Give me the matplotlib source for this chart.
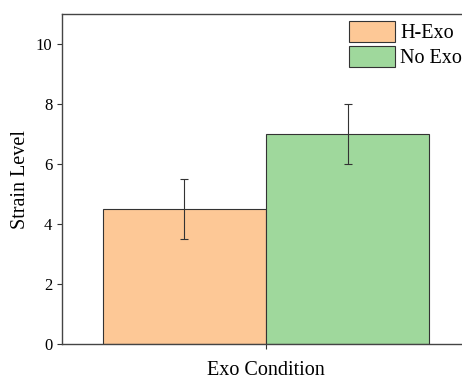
import matplotlib
matplotlib.use("Agg")
import matplotlib.pyplot as plt

plt.rcParams['font.family'] = ['Liberation Serif', 'DejaVu Serif']

labels = ["H-Exo", "No Exo"]
means = [4.5, 7.0]
errs = [1.0, 1.0]
colors = ["#fdc896", "#9fd89c"]
positions = [-0.2, 0.2]

fig = plt.figure(figsize=(4.62, 3.79), dpi=100)
ax = fig.add_axes([62 / 462, 1 - 344 / 379, 408 / 462, 330 / 379])

for p, m, e, c, l in zip(positions, means, errs, colors, labels):
    ax.bar(p, m, width=0.4, color=c, edgecolor="#333333", linewidth=0.8, label=l)
    ax.errorbar(p, m, yerr=e, color="#333333", capsize=3, elinewidth=0.8, capthick=0.8)

ax.set_xlim(-0.5, 0.5)
ax.set_ylim(0, 11)
ax.set_yticks([0, 2, 4, 6, 8, 10])
ax.set_xticks([0])
ax.set_xticklabels([""])
ax.set_xlabel("Exo Condition", fontsize=14.5, labelpad=5)
ax.set_ylabel("Strain Level", fontsize=14.5, labelpad=4)
ax.tick_params(labelsize=12, color="#333333")
for s in ax.spines.values():
    s.set_color("#444444")
    s.set_linewidth(1.0)

ax.legend(loc="upper left", frameon=False, fontsize=14.5, handlelength=2.3,
          handleheight=1.2, labelspacing=0.15, handletextpad=0.25,
          borderaxespad=0.0, borderpad=0.0, bbox_to_anchor=(287 / 408, 1 - 7 / 330))

fig.savefig("out.png", dpi=100)
